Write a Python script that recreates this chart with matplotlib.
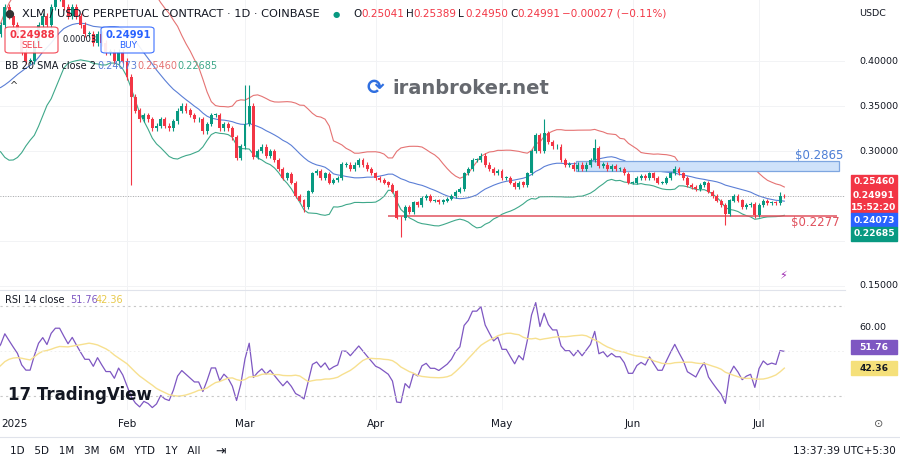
import numpy as np
import matplotlib
matplotlib.use("Agg")
import matplotlib.pyplot as plt
from matplotlib.patches import Rectangle, FancyBboxPatch

# ---------------- data ----------------
warmup_closes = [0.45,0.42,0.40,0.38,0.36,0.35,0.34,0.33,0.34,0.35,0.33,0.33,0.34,0.36,0.35,0.36,0.37,0.40,0.42,0.43]
closes = [
 0.43,0.44,0.46,0.45,0.44,0.43,0.41,0.40,0.40,0.42,0.44,0.45,0.44,0.46,0.47,0.47,0.46,0.45,0.46,0.45,
 0.44,0.43,0.43,0.42,0.43,0.42,0.41,0.41,0.40,0.41,0.40,
 0.382,0.360,0.345,0.335,0.340,0.335,0.325,0.328,0.335,0.328,0.325,0.333,0.345,0.350,0.345,0.340,0.335,0.335,0.322,0.330,
 0.340,0.340,0.325,0.330,0.325,0.315,0.292,0.305,
 0.330,0.350,0.293,0.300,0.305,0.295,0.300,0.290,0.280,0.270,0.275,0.265,0.250,0.245,0.238,0.255,0.275,0.278,0.270,0.275,
 0.265,0.268,0.270,0.285,0.285,0.280,0.285,0.290,0.285,0.280,0.275,
 0.270,0.268,0.265,0.262,0.255,0.226,0.225,0.238,0.232,0.243,0.240,0.248,0.250,0.245,0.245,0.243,0.245,0.247,0.250,0.255,
 0.258,0.275,0.280,0.290,0.290,0.295,0.285,0.280,0.275,0.278,
 0.270,0.270,0.265,0.260,0.265,0.262,0.275,0.300,0.318,0.300,0.320,0.310,0.305,0.305,0.290,0.285,0.285,0.280,0.285,0.280,
 0.285,0.290,0.303,0.283,0.285,0.280,0.283,0.280,0.280,0.275,0.265,
 0.265,0.270,0.272,0.270,0.275,0.270,0.265,0.265,0.270,0.275,0.280,0.275,0.270,0.262,0.260,0.258,0.262,0.265,0.255,0.250,
 0.245,0.240,0.230,0.245,0.250,0.245,0.238,0.240,0.241,0.229,
 0.240,0.245,0.242,0.243,0.242,0.2504,0.2499]
first_open = 0.43
spike_highs = {59: 0.373, 60: 0.373, 130: 0.335, 142: 0.313, 161: 0.283, 186: 0.2539}
spike_lows = {32: 0.262, 73: 0.232, 96: 0.205, 173: 0.218, 180: 0.226}
month_labels = ["2025", "Feb", "Mar", "Apr", "May", "Jun", "Jul"]
month_days = [0, 31, 59, 90, 120, 151, 181]
resistance = 0.2865
support = 0.2277

# ---------------- indicators ----------------
allc = np.array(warmup_closes + closes)
nw = len(warmup_closes)
n = len(closes)
c = np.array(closes)
o = np.concatenate([[first_open], c[:-1]])
h = np.maximum(o, c) * 1.008
l = np.minimum(o, c) * 0.992
for k, v in spike_highs.items(): h[k] = v
for k, v in spike_lows.items(): l[k] = v

basis = np.array([allc[max(0, i-19):i+1].mean() for i in range(len(allc))])
sd = np.array([allc[max(0, i-19):i+1].std() for i in range(len(allc))])
upper = (basis + 2*sd)[nw:]; lower = (basis - 2*sd)[nw:]; basis = basis[nw:]

d = np.diff(allc)
gain = np.where(d > 0, d, 0); loss = np.where(d < 0, -d, 0)
ag = gain[:14].mean(); al = loss[:14].mean()
rsi_all = [np.nan]*15
for i in range(14, len(d)):
    ag = (ag*13 + gain[i])/14; al = (al*13 + loss[i])/14
    rsi_all.append(100 - 100/(1+ag/al))
rsi_all = np.array(rsi_all)
rsi_ma_all = np.array([np.nanmean(rsi_all[max(0, i-13):i+1]) for i in range(len(rsi_all))])
rsi = rsi_all[nw:]; rsi_ma = rsi_ma_all[nw:]

# ---------------- figure ----------------
GREEN = "#089981"; RED = "#f23645"; BLUE = "#2962ff"
fig = plt.figure(figsize=(9, 4.65), dpi=100)
W, H = 900, 465
def ax_rect(x0, y0, x1, y1):
    return [x0/W, 1-y1/H, (x1-x0)/W, (y1-y0)/H]

ax = fig.add_axes(ax_rect(0, 0, 845, 290))
ax2 = fig.add_axes(ax_rect(0, 290, 845, 410), sharex=ax)
days = np.arange(n)
xl = (0.854, 201.4)

for i in range(n):
    col = GREEN if c[i] >= o[i] else RED
    ax.vlines(i, l[i], h[i], color=col, lw=0.8, zorder=3)
    ax.add_patch(Rectangle((i-0.35, min(o[i], c[i])), 0.7, max(abs(c[i]-o[i]), 0.0006),
                           color=col, lw=0, zorder=4))
ax.plot(days, upper, color="#e57373", lw=0.8)
ax.plot(days, basis, color="#5b7fd6", lw=0.8)
ax.plot(days, lower, color="#3fa88a", lw=0.8)

ax.add_patch(Rectangle((137.5, 0.278), 200.0-137.5, 0.0105, facecolor="#cfe2fa",
                       edgecolor="#7ea6e0", lw=0.9, zorder=2))
ax.hlines(support, 93.0, 199.5, color="#e0525e", lw=1.1, zorder=2)
ax.axhline(c[-1], color="#999999", lw=0.6, ls=(0, (1, 2)))
ax.text(189.5, 0.2907, "$0.2865", color="#4d7fd6", fontsize=8.5)
ax.text(188.5, 0.2168, "$0.2277", color="#e0525e", fontsize=8.5)

ax.set_xlim(*xl)
ax.set_ylim(0.25 - 94/900, 0.25 + 196/900)
ax2.set_ylim(50 - 59/2.25, 50 + 61/2.25)
for a in (ax, ax2):
    a.set_yticks([]); a.tick_params(length=0, labelbottom=False)
    for s in a.spines.values(): s.set_visible(False)
    for md in month_days:
        a.axvline(md, color="#f2f3f5", lw=0.7, zorder=0)
for p in [0.40, 0.35, 0.30, 0.25, 0.20, 0.15]:
    ax.axhline(p, color="#f2f3f5", lw=0.7, zorder=0)
fig.add_artist(plt.Line2D([0, 845/W], [1-290/H]*2, color="#e0e3eb", lw=0.8))

ax2.plot(days, rsi, color="#7e57c2", lw=0.9)
ax2.plot(days, rsi_ma, color="#f7e08f", lw=1.0)
for lv in (70, 30):
    ax2.axhline(lv, color="#c8c8c8", lw=0.8, ls=(0, (2, 3)))
ax2.axhline(50, color="#ececec", lw=0.6, ls=(0, (2, 3)))

# x labels
for lab, md in zip(month_labels, month_days):
    xp = (-3.6 + 4.214*md)/W
    if md == 0:
        fig.text(1/W, 1-424/H, lab, fontsize=7.5, color="#131722", ha="left", va="center")
    else:
        fig.text(xp, 1-424/H, lab, fontsize=7.5, color="#131722", ha="center", va="center")

# right price scale
def rt(y, s, **kw):
    fig.text(859/W, 1-y/H, s, fontsize=6.8, va="center", color="#131722", **kw)
rt(14, "USDC")
for y, s in [(61, "0.40000"), (106, "0.35000"), (151, "0.30000"), (285, "0.15000"), (328, "60.00")]:
    rt(y, s)
def tag(y0, y1, color, lines, tc="white"):
    fig.add_artist(Rectangle((851/W, 1-y1/H), 46/W, (y1-y0)/H, color=color, transform=fig.transFigure))
    for yy, s in lines:
        fig.text(874/W, 1-yy/H, s, fontsize=6.6, ha="center", va="center", color=tc, weight="bold")
tag(175, 213, RED, [(182, "0.25460"), (196, "0.24991"), (207, "15:52:20")])
tag(213, 227, BLUE, [(220, "0.24073")])
tag(227, 241, GREEN, [(234, "0.22685")])
tag(340, 354, "#7e57c2", [(347, "51.76")])
tag(361, 375, "#f5e07a", [(368, "42.36")], tc="#131722")
fig.text(879/W, 1-424/H, "⊙", fontsize=8, ha="center", va="center", color="#555")

# header
fig.text(22/W, 1-14/H, "XLM / USDC PERPETUAL CONTRACT · 1D · COINBASE", fontsize=8.2, va="center", color="#131722")
fig.text(4/W, 1-14/H, "●", fontsize=8, va="center", color="#333")
fig.text(333/W, 1-14/H, "●", fontsize=6, va="center", color=GREEN)
fig.text(353/W, 1-14/H, "O", fontsize=7.5, va="center", color="#131722")
xs = 361
for lab, val in [("", "0.25041"), ("H", "0.25389"), ("L", "0.24950"), ("C", "0.24991"), ("", "−0.00027 (−0.11%)")]:
    if lab:
        fig.text(xs/W, 1-14/H, lab, fontsize=7.5, va="center", color="#131722"); xs += 7
    fig.text(xs/W, 1-14/H, val, fontsize=7.5, va="center", color=RED)
    xs += 45 if lab or val.startswith("0") else 0
for x0, col, v, lab in [(5, RED, "0.24988", "SELL"), (101, BLUE, "0.24991", "BUY")]:
    fig.add_artist(FancyBboxPatch((x0/W, 1-53/H), 53/W, 26/H, boxstyle="round,pad=0,rounding_size=0.005",
                                  facecolor="white", edgecolor=col, lw=0.8, transform=fig.transFigure, alpha=0.9))
    fig.text((x0+27)/W, 1-35/H, v, fontsize=7.2, ha="center", va="center", color=col, weight="bold")
    fig.text((x0+27)/W, 1-46/H, lab, fontsize=6.5, ha="center", va="center", color=col)
fig.text(80/W, 1-40/H, "0.00003", fontsize=6, ha="center", va="center", color="#131722")
fig.text(5/W, 1-66/H, "BB 20 SMA close 2", fontsize=7, va="center", color="#131722")
fig.text(97/W, 1-66/H, "0.24073", fontsize=7, va="center", color="#5b7fd6")
fig.text(137/W, 1-66/H, "0.25460", fontsize=7, va="center", color="#e57373")
fig.text(177/W, 1-66/H, "0.22685", fontsize=7, va="center", color="#3fa88a")
fig.text(14/W, 1-86/H, "^", fontsize=7, ha="center", va="center", color="#333")
fig.text(5/W, 1-300/H, "RSI 14 close", fontsize=7, va="center", color="#131722")
fig.text(70/W, 1-300/H, "51.76", fontsize=7, va="center", color="#7e57c2")
fig.text(96/W, 1-300/H, "42.36", fontsize=7, va="center", color="#e8c94a")

fig.text(375/W, 1-88/H, "⟳", fontsize=15, va="center", ha="center", color="#2f6fe0", weight="bold")
fig.text(392/W, 1-88/H, "iranbroker.net", fontsize=14, va="center", color="#55595f", weight="bold", alpha=0.9)
fig.text(8/W, 1-395/H, "17 TradingView", fontsize=12, va="center", color="#131722", weight="bold")
fig.text(783/W, 1-276/H, "⚡", fontsize=8, ha="center", va="center", color="#9c27b0")

fig.text(10/W, 1-451/H, "1D   5D   1M   3M   6M   YTD   1Y   All", fontsize=7.5, va="center", color="#131722")
fig.text(215/W, 1-451/H, "⇥", fontsize=9, va="center", color="#131722")
fig.text(896/W, 1-451/H, "13:37:39 UTC+5:30", fontsize=7.5, va="center", ha="right", color="#131722")
fig.add_artist(plt.Line2D([0, 1], [1-437/H]*2, color="#e0e3eb", lw=0.8))

fig.savefig("out.png", dpi=100)
